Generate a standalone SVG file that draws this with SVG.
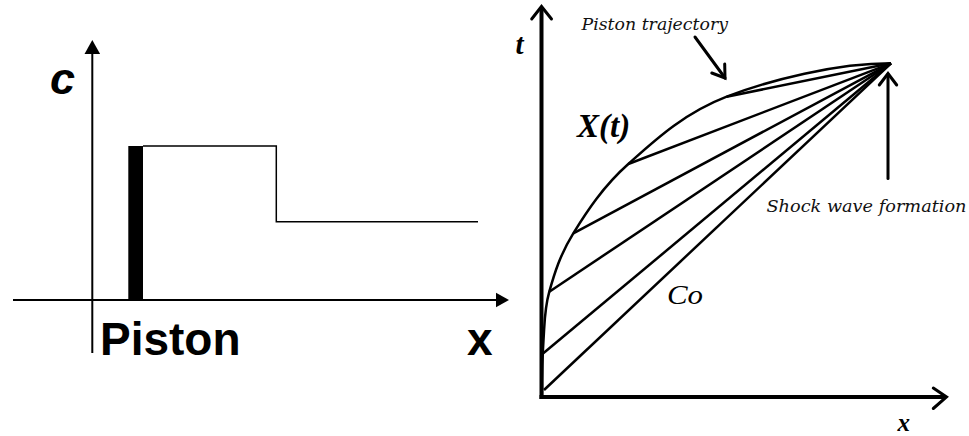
<svg xmlns="http://www.w3.org/2000/svg" width="969" height="436" viewBox="0 0 969 436">
<style>
.ax{stroke:#000;fill:none;stroke-width:2}
.thin{stroke:#000;fill:none;stroke-width:1.5}
.rax{stroke:#000;fill:none;stroke-width:4}
.chev{stroke:#000;fill:none;stroke-width:3;stroke-linecap:round;stroke-linejoin:miter}
.char{stroke:#000;fill:none;stroke-width:2.5}
.sans{font-family:"Liberation Sans",Arial,sans-serif;font-weight:bold;fill:#000}
.serif{font-family:"Liberation Serif","Times New Roman",serif;fill:#000}
.book{font-family:"DejaVu Serif",serif;font-style:italic;fill:#111}
</style>
<rect width="969" height="436" fill="#fff"/>
<g id="left-panel">
  <g id="c-axis">
    <line class="ax" x1="92.3" y1="353" x2="92.3" y2="52"/>
    <polygon points="92.3,40 84.5,54 100.1,54" fill="#000"/>
    <text class="sans" x="50" y="93.5" font-size="45" font-style="italic">c</text>
  </g>
  <g id="x-axis">
    <line class="ax" x1="13" y1="300" x2="498" y2="300"/>
    <polygon points="509,300 496,292.8 496,307.2" fill="#000"/>
    <text class="sans" x="467" y="355" font-size="46">x</text>
  </g>
  <g id="piston">
    <rect x="128.3" y="146" width="14.7" height="154" fill="#000"/>
    <text class="sans" x="100" y="355" font-size="46">Piston</text>
  </g>
  <g id="profile">
    <polyline class="thin" points="143,146 276.3,146 276.3,221.7 478,221.7"/>
  </g>
</g>
<g id="right-panel">
  <g id="t-axis">
    <line class="rax" x1="541.5" y1="399" x2="541.5" y2="8"/>
    <polyline class="chev" points="531.7,19 541.5,6.5 551.5,19"/>
    <text class="serif" x="515.5" y="54" font-size="29" font-weight="bold" font-style="italic">t</text>
  </g>
  <g id="x-axis-r">
    <line class="rax" x1="539.5" y1="397" x2="944" y2="397"/>
    <polyline class="chev" points="933.3,388 946.5,397 933.3,408.5"/>
    <text class="serif" x="897.5" y="430.5" font-size="25" font-weight="bold" font-style="italic">x</text>
  </g>
  <g id="trajectory">
    <path class="char" stroke-width="2" d="M542,397 C542,380 542.3,357.6 543.5,340 C544.7,322.5 544.3,309.5 549.3,291.7 C554.3,273.9 560.1,254.6 573.3,233.3 C586.5,212 602.7,186.8 628.3,164 C653.9,141.2 683.1,113.5 726.7,96.7 C770.3,79.9 835.6,63.3 891,63.3"/>
    <text class="serif" x="577" y="136.5" font-size="33" font-weight="bold" font-style="italic">X(t)</text>
  </g>
  <g id="connectors">
    <line class="char" x1="544" y1="390" x2="891" y2="63.3"/>
    <line class="char" x1="543.3" y1="353.3" x2="891" y2="63.3"/>
    <line class="char" x1="549.3" y1="291.7" x2="891" y2="63.3"/>
    <line class="char" x1="573.3" y1="233.3" x2="891" y2="63.3"/>
    <line class="char" x1="628.3" y1="164" x2="891" y2="63.3"/>
    <line class="char" x1="726.7" y1="96.7" x2="891" y2="63.3"/>
  </g>
  <g id="co-label">
    <text class="serif" x="667" y="303.5" font-size="28" font-style="italic" fill="#222" textLength="36" lengthAdjust="spacingAndGlyphs">Co</text>
  </g>
  <g id="piston-trajectory-label">
    <text class="book" x="581.5" y="30" font-size="17" textLength="146.5" lengthAdjust="spacingAndGlyphs">Piston trajectory</text>
    <line class="chev" stroke-width="2.2" x1="695" y1="37" x2="725" y2="78"/>
    <polyline class="chev" stroke-width="2.2" points="724.7,64 725,78 711.8,73"/>
  </g>
  <g id="shock-label">
    <line class="chev" stroke-width="2.2" x1="888" y1="178.5" x2="888" y2="74"/>
    <polyline class="chev" stroke-width="2.2" points="879.3,85 888,73.5 896.7,85"/>
    <text class="book" x="766.5" y="212.3" font-size="17" textLength="200" lengthAdjust="spacingAndGlyphs">Shock wave formation</text>
  </g>
</g>
</svg>
